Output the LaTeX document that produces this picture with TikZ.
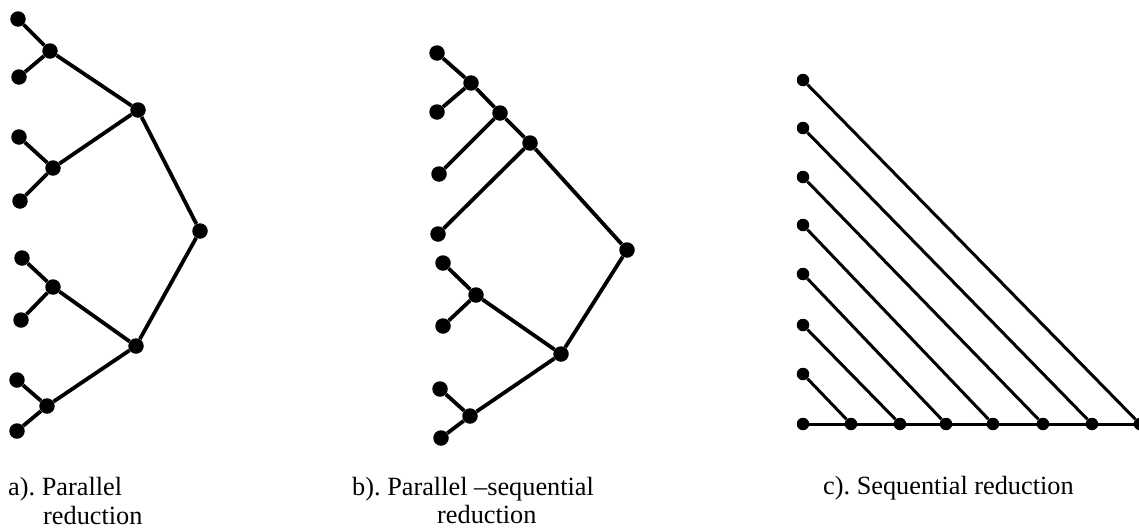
\documentclass[tikz,border=0pt]{standalone}
\usepackage{fontspec}
\setmainfont{Liberation Serif}
\frenchspacing
\begin{document}
\begin{tikzpicture}[x=1pt,y=-1pt,
  dotA/.style={circle,fill=black,inner sep=0pt,minimum size=15.5pt},
  dotC/.style={circle,fill=black,inner sep=0pt,minimum size=12.5pt},
  edgeA/.style={line width=3.8pt},
  edgeC/.style={line width=3pt},
  lbl/.style={anchor=base west,inner sep=0pt,font=\fontsize{26.3}{30}\selectfont}]
\useasboundingbox (0,0) rectangle (1139,530);
% ---------- a) parallel ----------
\foreach \n/\x/\y in {a1/18/19,a2/19/77,a3/19/137,a4/20/201,a5/22/258,a6/21/320,a7/17/380,a8/17/431,
  b1/50/51,b2/53/168,b3/53/287,b4/47/406,c1/138/110,c2/136/346,r/200/231}
  \node[dotA] (A\n) at (\x,\y) {};
\draw[edgeA] (Aa1)--(Ab1)--(Aa2) (Aa3)--(Ab2)--(Aa4) (Aa5)--(Ab3)--(Aa6) (Aa7)--(Ab4)--(Aa8)
  (Ab1)--(Ac1)--(Ab2) (Ab3)--(Ac2)--(Ab4) (Ac1)--(Ar)--(Ac2);
% ---------- b) parallel-sequential ----------
\foreach \n/\x/\y in {a1/437/53,a2/437/112,a3/439/174,a4/438/234,a5/443/263,a6/443/326,a7/440/389,a8/441/438,
  s1/471/83,s2/500/113,s3/530/143,p1/476/295,p2/470/416,q/561/354,r/627/250}
  \node[dotA] (B\n) at (\x,\y) {};
\draw[edgeA] (Ba1)--(Bs1)--(Ba2) (Bs1)--(Bs2)--(Ba3) (Bs2)--(Bs3)--(Ba4) (Bs3)--(Br)
  (Ba5)--(Bp1)--(Ba6) (Ba7)--(Bp2)--(Ba8) (Bp1)--(Bq)--(Bp2) (Bq)--(Br);
% ---------- c) sequential ----------
\foreach \i/\y in {1/374,2/325,3/274,4/225,5/177,6/128,7/80}
  \node[dotC] (Cl\i) at (803,\y) {};
\node[dotC] (C0) at (803,424) {};
\foreach \i/\x in {1/851,2/900,3/946,4/993,5/1043,6/1092,7/1140}
  \node[dotC] (Cb\i) at (\x,424) {};
\draw[edgeC] (C0)--(Cb1)--(Cb2)--(Cb3)--(Cb4)--(Cb5)--(Cb6)--(Cb7);
\foreach \i in {1,...,7} \draw[edgeC] (Cl\i)--(Cb\i);
% ---------- labels ----------
\node[lbl] (la1) at (8,495) {a). Parallel};
\node[lbl] (la2) at (43,524) {reduction};
\node[lbl] (lb1) at (352,495) {b). Parallel –sequential};
\node[lbl] (lb2) at (437,523) {reduction};
\node[lbl] (lc) at (823,494) {c). Sequential reduction};
\end{tikzpicture}
\end{document}
